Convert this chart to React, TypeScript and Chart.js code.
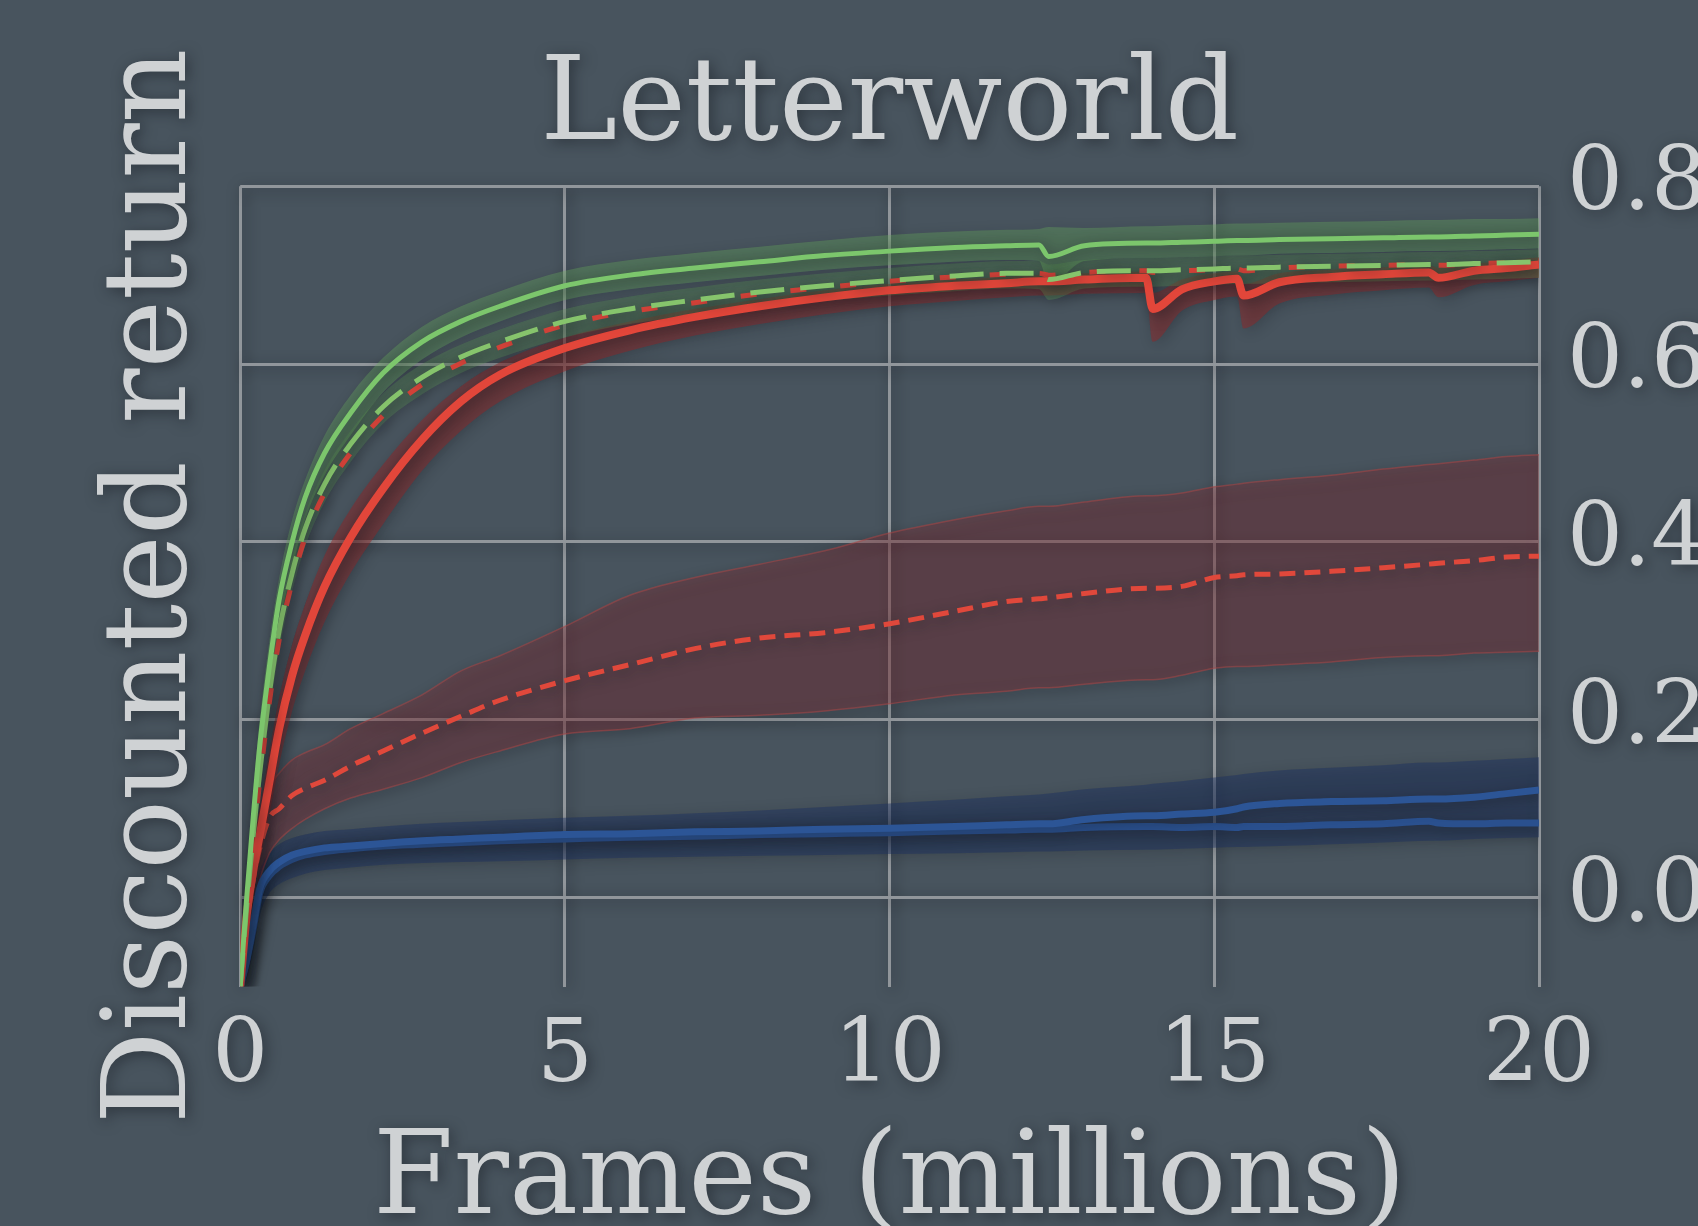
import React, { useEffect, useRef } from "react";
import { Chart, registerables } from "chart.js";

Chart.register(...registerables);

const FONT = "'DejaVu Serif', 'Liberation Serif', serif";
const TEXT = "#cfd2d4";
const GRID = "#91969b";
const BG = "#48545e";

const titleText = "Letterworld";
const xTitle = "Frames (millions)";
const yTitle = "Discounted return";
const xTicks = [0, 5, 10, 15, 20];
const yTicks = [0, 0.2, 0.4, 0.6, 0.8];

// frames (millions)
const frames = [0, 0.1, 0.2, 0.3, 0.45, 0.6, 0.8, 1.0, 1.3, 1.7, 2.2, 2.8, 3.4, 4.0, 5.0, 6.0, 7.0, 8.0, 9.0, 10.0, 11.0, 11.8, 12.3, 12.45, 13.0, 13.95, 14.05, 14.5, 15.0, 15.35, 15.45, 16.0, 16.8, 17.6, 18.3, 18.45, 19.0, 19.5, 20.0];

// green solid
const greenSolid = [-0.1, 0.0, 0.09, 0.17, 0.26, 0.335, 0.4, 0.45, 0.5, 0.545, 0.59, 0.625, 0.648, 0.665, 0.688, 0.7, 0.708, 0.715, 0.722, 0.727, 0.731, 0.733, 0.734, 0.721, 0.733, 0.736, 0.736, 0.737, 0.738, 0.739, 0.739, 0.74, 0.741, 0.742, 0.743, 0.743, 0.744, 0.745, 0.746];
const greenSolidHi = [-0.09, 0.02, 0.12, 0.2, 0.29, 0.36, 0.425, 0.47, 0.52, 0.565, 0.607, 0.642, 0.665, 0.682, 0.705, 0.717, 0.725, 0.732, 0.739, 0.745, 0.749, 0.751, 0.752, 0.754, 0.753, 0.755, 0.755, 0.756, 0.757, 0.758, 0.758, 0.759, 0.76, 0.761, 0.762, 0.762, 0.763, 0.763, 0.764];
const greenSolidLo = [-0.1, -0.02, 0.06, 0.14, 0.23, 0.305, 0.37, 0.425, 0.475, 0.52, 0.568, 0.605, 0.63, 0.648, 0.672, 0.684, 0.692, 0.699, 0.706, 0.711, 0.715, 0.717, 0.716, 0.69, 0.716, 0.719, 0.719, 0.72, 0.721, 0.722, 0.722, 0.724, 0.725, 0.726, 0.727, 0.727, 0.728, 0.729, 0.73];

// green dashed
const greenDashed = [-0.1, -0.01, 0.07, 0.14, 0.23, 0.3, 0.365, 0.415, 0.465, 0.51, 0.552, 0.585, 0.608, 0.625, 0.648, 0.662, 0.672, 0.681, 0.688, 0.694, 0.699, 0.702, 0.702, 0.695, 0.703, 0.705, 0.705, 0.706, 0.707, 0.708, 0.708, 0.709, 0.71, 0.711, 0.712, 0.712, 0.713, 0.714, 0.715];
const greenDashedHi = [-0.09, 0.01, 0.09, 0.16, 0.25, 0.318, 0.382, 0.432, 0.481, 0.525, 0.567, 0.6, 0.622, 0.639, 0.662, 0.676, 0.686, 0.695, 0.702, 0.708, 0.713, 0.716, 0.716, 0.712, 0.717, 0.719, 0.719, 0.72, 0.721, 0.722, 0.722, 0.723, 0.724, 0.725, 0.726, 0.726, 0.727, 0.728, 0.729];
const greenDashedLo = [-0.1, -0.03, 0.045, 0.115, 0.205, 0.278, 0.345, 0.395, 0.445, 0.49, 0.533, 0.566, 0.59, 0.607, 0.63, 0.645, 0.655, 0.664, 0.671, 0.677, 0.682, 0.685, 0.684, 0.672, 0.685, 0.687, 0.687, 0.688, 0.689, 0.69, 0.69, 0.691, 0.692, 0.693, 0.694, 0.694, 0.695, 0.696, 0.697];

// red solid
const redSolid = [-0.1, -0.02, 0.03, 0.07, 0.13, 0.19, 0.25, 0.295, 0.35, 0.405, 0.46, 0.515, 0.558, 0.588, 0.618, 0.638, 0.653, 0.665, 0.675, 0.683, 0.688, 0.691, 0.693, 0.693, 0.695, 0.697, 0.662, 0.684, 0.693, 0.696, 0.677, 0.692, 0.698, 0.701, 0.703, 0.697, 0.705, 0.708, 0.712];
const redSolidHi = [-0.09, 0.0, 0.055, 0.1, 0.165, 0.225, 0.285, 0.33, 0.385, 0.437, 0.487, 0.537, 0.575, 0.602, 0.63, 0.648, 0.662, 0.673, 0.683, 0.69, 0.695, 0.698, 0.7, 0.7, 0.702, 0.704, 0.68, 0.695, 0.702, 0.704, 0.69, 0.702, 0.706, 0.709, 0.711, 0.708, 0.713, 0.716, 0.72];
const redSolidLo = [-0.1, -0.04, 0.005, 0.04, 0.095, 0.15, 0.21, 0.255, 0.31, 0.365, 0.42, 0.48, 0.525, 0.558, 0.592, 0.615, 0.632, 0.645, 0.656, 0.665, 0.671, 0.675, 0.677, 0.677, 0.679, 0.68, 0.625, 0.66, 0.672, 0.676, 0.64, 0.668, 0.678, 0.683, 0.686, 0.675, 0.689, 0.693, 0.697];

// red dashed (upper, overlapping green dashed)
const redDashedTop = [-0.1, -0.015, 0.06, 0.13, 0.22, 0.29, 0.355, 0.405, 0.455, 0.5, 0.542, 0.577, 0.601, 0.619, 0.644, 0.659, 0.669, 0.679, 0.686, 0.693, 0.698, 0.701, 0.702, 0.7, 0.703, 0.705, 0.703, 0.705, 0.706, 0.707, 0.705, 0.708, 0.71, 0.711, 0.712, 0.711, 0.713, 0.714, 0.716];

// red dashed (lower, wide band)
const redDashed = [-0.1, -0.03, 0.02, 0.055, 0.09, 0.1, 0.115, 0.123, 0.132, 0.148, 0.165, 0.185, 0.204, 0.222, 0.244, 0.262, 0.28, 0.292, 0.298, 0.308, 0.322, 0.333, 0.336, 0.337, 0.342, 0.348, 0.348, 0.35, 0.36, 0.362, 0.363, 0.364, 0.367, 0.371, 0.375, 0.376, 0.379, 0.383, 0.384];
const redDashedHi = [-0.08, 0.0, 0.06, 0.095, 0.125, 0.14, 0.155, 0.163, 0.172, 0.19, 0.207, 0.228, 0.255, 0.272, 0.305, 0.34, 0.36, 0.375, 0.39, 0.41, 0.425, 0.435, 0.44, 0.44, 0.445, 0.452, 0.452, 0.455, 0.462, 0.465, 0.466, 0.47, 0.475, 0.482, 0.487, 0.488, 0.492, 0.496, 0.498];
const redDashedLo = [-0.1, -0.05, -0.01, 0.02, 0.05, 0.065, 0.078, 0.088, 0.1, 0.112, 0.122, 0.135, 0.152, 0.165, 0.184, 0.19, 0.202, 0.205, 0.21, 0.218, 0.228, 0.232, 0.236, 0.236, 0.24, 0.245, 0.245, 0.25, 0.258, 0.26, 0.26, 0.262, 0.265, 0.27, 0.272, 0.272, 0.275, 0.276, 0.277];

// blue
const blueUpper = [-0.1, -0.07, -0.03, 0.01, 0.03, 0.04, 0.048, 0.052, 0.056, 0.058, 0.061, 0.064, 0.066, 0.068, 0.071, 0.072, 0.074, 0.075, 0.077, 0.078, 0.08, 0.082, 0.083, 0.083, 0.088, 0.092, 0.092, 0.094, 0.096, 0.1, 0.102, 0.106, 0.108, 0.109, 0.111, 0.111, 0.113, 0.117, 0.121];
const blueLower = [-0.1, -0.07, -0.035, 0.005, 0.025, 0.035, 0.043, 0.048, 0.052, 0.055, 0.058, 0.06, 0.062, 0.064, 0.066, 0.068, 0.069, 0.071, 0.072, 0.073, 0.075, 0.076, 0.077, 0.077, 0.079, 0.08, 0.08, 0.079, 0.08, 0.079, 0.08, 0.08, 0.082, 0.083, 0.086, 0.084, 0.083, 0.084, 0.084];
const blueHi = [-0.09, -0.05, -0.01, 0.03, 0.05, 0.06, 0.067, 0.071, 0.075, 0.077, 0.08, 0.083, 0.085, 0.087, 0.09, 0.092, 0.095, 0.098, 0.102, 0.106, 0.11, 0.114, 0.116, 0.117, 0.122, 0.127, 0.128, 0.131, 0.135, 0.138, 0.139, 0.143, 0.146, 0.149, 0.152, 0.152, 0.154, 0.156, 0.158];
const blueLo = [-0.1, -0.09, -0.06, -0.02, 0.005, 0.015, 0.022, 0.027, 0.031, 0.034, 0.037, 0.039, 0.04, 0.041, 0.043, 0.045, 0.046, 0.047, 0.048, 0.049, 0.05, 0.051, 0.052, 0.052, 0.053, 0.054, 0.054, 0.055, 0.056, 0.057, 0.057, 0.058, 0.06, 0.062, 0.064, 0.064, 0.066, 0.067, 0.068];

function pts(ys: number[]) {
  return frames.map((x, i) => ({ x, y: ys[i] }));
}

function line(label: string, ys: number[], color: string, width: number, order: number, dash: number[] = [], dashOffset = 0) {
  return {
    label,
    data: pts(ys),
    borderColor: color,
    borderWidth: width,
    borderDash: dash,
    borderDashOffset: dashOffset,
    pointRadius: 0,
    fill: false,
    order,
  };
}

function band(label: string, lo: number[], hi: number[], fillColor: string, edge: string, order: number) {
  return [
    {
      label: label + " lo",
      data: pts(lo),
      borderColor: edge,
      borderWidth: edge === "transparent" ? 0 : 1.5,
      pointRadius: 0,
      fill: false,
      order,
    },
    {
      label: label + " hi",
      data: pts(hi),
      borderColor: edge,
      borderWidth: edge === "transparent" ? 0 : 1.5,
      pointRadius: 0,
      fill: { target: "-1" },
      backgroundColor: fillColor,
      order,
    },
  ];
}

const shadowPlugin = {
  id: "softShadow",
  beforeDraw(chart: any) {
    const c = chart.ctx;
    c.save();
    c.shadowColor = "rgba(18,22,28,0.5)";
    c.shadowBlur = 14;
    c.shadowOffsetX = 3;
    c.shadowOffsetY = 3;
  },
  afterDraw(chart: any) {
    chart.ctx.restore();
  },
};

export default function App() {
  const ref = useRef<HTMLCanvasElement | null>(null);

  useEffect(() => {
    if (!ref.current) return;
    const datasets: any[] = [
      line("green solid", greenSolid, "#7cc66c", 5, 0),
      line("green dashed", greenDashed, "#86c46c", 5, 1, [34, 16], 0),
      line("red solid", redSolid, "#e2463a", 8, 2),
      line("red dashed top", redDashedTop, "#d9443a", 5, 3, [16, 34], 16),
      line("red dashed", redDashed, "#e0483b", 5, 4, [16, 9]),
      line("blue upper", blueUpper, "#2c5596", 7, 5),
      line("blue lower", blueLower, "#2a508e", 7, 6),
      ...band("green solid band", greenSolidLo, greenSolidHi, "rgba(105,180,95,0.33)", "transparent", 10),
      ...band("green dashed band", greenDashedLo, greenDashedHi, "rgba(95,160,85,0.3)", "transparent", 11),
      ...band("red solid band", redSolidLo, redSolidHi, "rgba(150,35,35,0.45)", "transparent", 12),
      ...band("red dashed band", redDashedLo, redDashedHi, "rgba(140,45,50,0.34)", "rgba(170,70,70,0.55)", 13),
      ...band("blue band", blueLo, blueHi, "rgba(25,45,95,0.42)", "transparent", 14),
    ];

    const tickFont = { family: FONT, size: 88, lineHeight: 1.2 };
    const chart = new Chart(ref.current, {
      type: "line",
      data: { datasets },
      options: {
        animation: false,
        responsive: false,
        devicePixelRatio: 1,
        layout: { padding: { left: 0, right: 14, top: 0, bottom: 0 } },
        elements: { line: { cubicInterpolationMode: "monotone" } },
        plugins: {
          legend: { display: false },
          tooltip: { enabled: false },
          title: {
            display: true,
            text: titleText,
            fullSize: false,
            color: TEXT,
            font: { family: FONT, size: 116, weight: "normal", lineHeight: 1.2 },
            padding: { top: 39, bottom: 8 },
          },
        },
        scales: {
          x: {
            type: "linear",
            position: "bottom",
            min: 0,
            max: 20,
            afterBuildTicks: (s: any) => {
              s.ticks = xTicks.map((v) => ({ value: v }));
            },
            ticks: { color: TEXT, font: tickFont, padding: 19, maxRotation: 0, autoSkip: false },
            grid: { color: GRID, lineWidth: 3, drawTicks: false },
            border: { display: false },
            title: {
              display: true,
              text: xTitle,
              color: TEXT,
              font: { family: FONT, size: 116, lineHeight: 0.8 },
              padding: { top: 6, bottom: -3 },
            },
          },
          y: {
            type: "linear",
            position: "right",
            min: -0.1,
            max: 0.8,
            afterBuildTicks: (s: any) => {
              s.ticks = yTicks.map((v) => ({ value: v }));
            },
            ticks: {
              color: TEXT,
              font: tickFont,
              padding: 28,
              autoSkip: false,
              callback: (v: any) => Number(v).toFixed(1),
            },
            grid: { color: GRID, lineWidth: 3, drawTicks: false },
            border: { display: false },
          },
          yl: {
            type: "linear",
            position: "left",
            display: true,
            ticks: { display: false },
            grid: { display: false },
            border: { display: false },
            title: {
              display: true,
              text: yTitle,
              color: TEXT,
              font: { family: FONT, size: 116, lineHeight: 1.2 },
              padding: { top: 85, bottom: 8 },
            },
          },
        },
      },
      plugins: [shadowPlugin],
    } as any);
    return () => chart.destroy();
  }, []);

  return (
    <div
      style={{
        position: "fixed",
        left: 0,
        top: 0,
        width: "100vw",
        height: "100vh",
        overflow: "hidden",
        background: BG,
      }}
    >
      <canvas ref={ref} width={1749} height={1226} style={{ display: "block" }} />
    </div>
  );
}
